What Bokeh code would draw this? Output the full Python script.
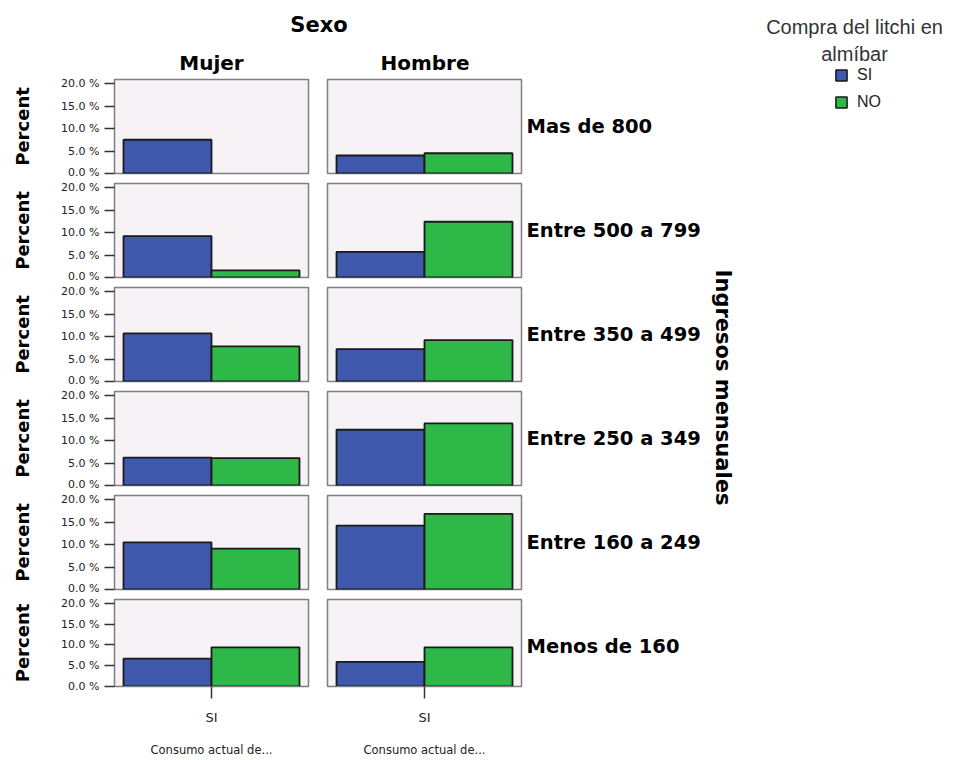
import math
from bokeh.plotting import figure
from bokeh.layouts import row, column
from bokeh.models import (ColumnDataSource, FactorRange, Range1d, FixedTicker,
                          PrintfTickFormatter, Label, Legend, LegendItem)
from bokeh.transform import dodge
from bokeh.embed import file_html
from bokeh.resources import INLINE

# ---------------- data ----------------
sexo = ["Mujer", "Hombre"]
ingresos = ["Mas de 800", "Entre 500 a 799", "Entre 350 a 499",
            "Entre 250 a 349", "Entre 160 a 249", "Menos de 160"]
compra = ["SI", "NO"]
consumo = ["SI"]
y_ticks = [0, 5, 10, 15, 20]

# percent of cases, one value per income row (top to bottom); None = no bar
mujer_si = [7.5, 9.2, 10.7, 6.2, 10.5, 6.7]
mujer_no = [None, 1.6, 7.8, 6.1, 9.1, 9.4]
hombre_si = [4.0, 5.7, 7.2, 12.4, 14.2, 5.9]
hombre_no = [4.5, 12.4, 9.2, 13.8, 16.8, 9.4]
values = {"Mujer": (mujer_si, mujer_no), "Hombre": (hombre_si, hombre_no)}

# ---------------- style ----------------
BLUE = "#3E58AC"
GREEN = "#2EB848"
PANEL_BG = "#F6F2F6"
FRAME = "#808080"
BAR_LINE = "#1a1a1a"
BOLD_FONT = "DejaVu Sans"
SMALL_FONT = "DejaVu Sans"
BAR_W = 0.4536

FRAME_W, FRAME_H = 194, 94
ROW_PAD = 5
HDR_H = 74
TOTAL_H = 759
RIGHT_W = 426


def nan_if_none(v):
    return float("nan") if v is None else v


def make_panel(r, c):
    left = (c == 0)
    bottom = (r == len(ingresos) - 1)
    mb_left = 114 if left else 9
    mb_right = 10 if left else 3
    mb_bottom = 66 if bottom else ROW_PAD
    p = figure(x_range=FactorRange(factors=consumo, range_padding=0),
               y_range=Range1d(0, 20.9),
               width=mb_left + FRAME_W + mb_right,
               height=ROW_PAD + FRAME_H + mb_bottom,
               min_border_left=mb_left, min_border_right=mb_right,
               min_border_top=ROW_PAD, min_border_bottom=mb_bottom,
               x_axis_location="below" if bottom else None,
               y_axis_location="left" if left else None,
               toolbar_location=None, output_backend="svg", title=None)
    p.background_fill_color = PANEL_BG
    p.border_fill_color = "white"
    p.outline_line_color = FRAME
    p.outline_line_width = 1.5
    p.grid.visible = False

    s_si, s_no = values[sexo[c]]
    src = ColumnDataSource(dict(consumo=consumo, si=[nan_if_none(s_si[r])],
                                no=[nan_if_none(s_no[r])]))
    p.vbar(x=dodge("consumo", -BAR_W / 2, range=p.x_range), top="si", width=BAR_W,
           source=src, fill_color=BLUE, line_color=BAR_LINE, line_width=1.8)
    p.vbar(x=dodge("consumo", BAR_W / 2, range=p.x_range), top="no", width=BAR_W,
           source=src, fill_color=GREEN, line_color=BAR_LINE, line_width=1.8)

    if left:
        ax = p.yaxis[0]
        ax.ticker = FixedTicker(ticks=y_ticks)
        ax.formatter = PrintfTickFormatter(format="%.1f %%")
        ax.major_label_text_font = SMALL_FONT
        ax.major_label_text_font_size = "11px"
        ax.major_label_text_color = "#222222"
        ax.major_tick_out = 10
        ax.major_tick_in = 0
        ax.major_tick_line_color = "#333333"
        ax.major_tick_line_width = 1.5
        ax.minor_tick_line_color = None
        ax.axis_line_color = FRAME
        ax.major_label_standoff = 5
        ax.axis_label = "Percent"
        ax.axis_label_text_font = BOLD_FONT
        ax.axis_label_text_font_style = "bold"
        ax.axis_label_text_font_size = "18px"
        ax.axis_label_text_color = "black"
        ax.axis_label_standoff = 25
    if bottom:
        ax = p.xaxis[0]
        ax.major_tick_out = 12
        ax.major_tick_in = 0
        ax.major_tick_line_color = "#333333"
        ax.major_tick_line_width = 1.5
        ax.axis_line_color = FRAME
        ax.major_label_text_font = SMALL_FONT
        ax.major_label_text_font_size = "13px"
        ax.major_label_text_color = "#222222"
        ax.major_label_standoff = 11
        ax.axis_label = "Consumo actual de..."
        ax.axis_label_text_font = SMALL_FONT
        ax.axis_label_text_font_style = "normal"
        ax.axis_label_text_font_size = "11.5px"
        ax.axis_label_text_color = "#222222"
        ax.axis_label_standoff = 15
    return p


def blank(w, h):
    p = figure(width=w, height=h, x_range=Range1d(0, 1), y_range=Range1d(0, 1),
               min_border=0, x_axis_location=None, y_axis_location=None,
               toolbar_location=None, output_backend="svg", title=None)
    p.outline_line_color = None
    p.grid.visible = False
    p.background_fill_color = "white"
    p.border_fill_color = "white"
    return p


def bold_label(text, x, y, size="20px", align="center", angle=0.0):
    return Label(x=x, y=y, x_units="screen", y_units="screen", text=text,
                 text_font=BOLD_FONT, text_font_style="bold", text_font_size=size,
                 text_color="black", text_align=align, text_baseline="middle",
                 angle=angle)


panels = [[make_panel(r, c) for c in range(2)] for r in range(len(ingresos))]
left_w = panels[0][0].width + panels[0][1].width

# header with column facet titles
hdr = blank(left_w, HDR_H)
hdr.add_layout(bold_label("Sexo", 318.5, HDR_H - 24, size="21px"))
for name, cx in zip(sexo, [211, 424.5]):
    hdr.add_layout(bold_label(name, cx, HDR_H - 62))

left_block = column(hdr, *[row(*pr) for pr in panels])

# right block: row facet labels, row facet title, legend
rf = blank(RIGHT_W, TOTAL_H)
x0 = left_w  # page x where the right block starts
for r, name in enumerate(ingresos):
    cy = HDR_H + ROW_PAD + FRAME_H / 2 + r * (2 * ROW_PAD + FRAME_H)
    rf.add_layout(bold_label(name, 526 - x0, TOTAL_H - cy, size="19.5px", align="left"))
rf.add_layout(bold_label("Ingresos mensuales", 722 - x0, TOTAL_H - 387, size="21px",
                         angle=-math.pi / 2))

nan = float("nan")
leg_src = ColumnDataSource(dict(x=[nan], top=[nan]))
r_si = rf.vbar(x="x", top="top", width=1, source=leg_src, fill_color=BLUE,
               line_color=BAR_LINE, line_width=1.5)
r_no = rf.vbar(x="x", top="top", width=1, source=leg_src, fill_color=GREEN,
               line_color=BAR_LINE, line_width=1.5)
legend = Legend(items=[LegendItem(label=compra[0], renderers=[r_si]),
                       LegendItem(label=compra[1], renderers=[r_no])],
                location=(834 - x0, TOTAL_H - 111), orientation="vertical",
                glyph_width=14, glyph_height=14, label_standoff=9,
                label_height=18, spacing=9, padding=0, margin=0,
                label_text_font="Liberation Sans", label_text_font_size="16px",
                label_text_color="#222222",
                border_line_color=None, background_fill_alpha=0)
rf.add_layout(legend)
for txt, cy in [("Compra del litchi en", 26), ("almíbar", 53)]:
    rf.add_layout(Label(x=854 - x0, y=TOTAL_H - cy, x_units="screen", y_units="screen",
                        text=txt, text_font="Liberation Sans", text_font_size="20px",
                        text_color="#333333", text_align="center", text_baseline="middle"))

layout = row(left_block, rf)
open("out.html", "w").write(file_html(layout, INLINE))
